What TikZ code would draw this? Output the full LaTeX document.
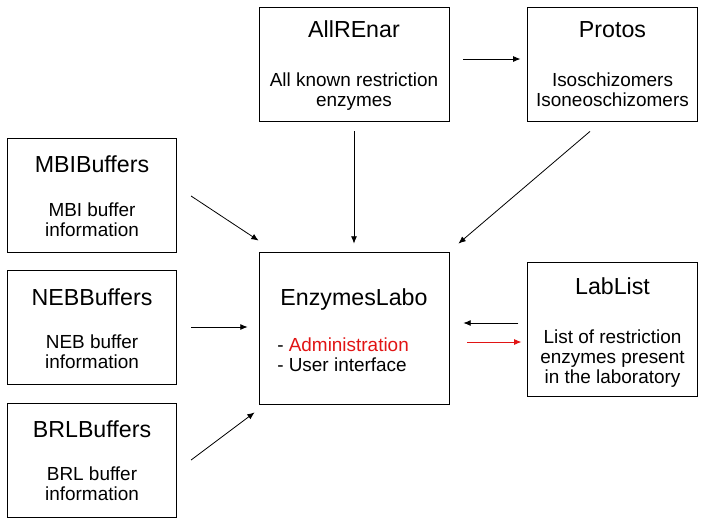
\documentclass[tikz,border=0pt]{standalone}
\usepackage{fontspec}
\setmainfont{Liberation Sans}
\usetikzlibrary{arrows.meta}
\definecolor{adminred}{RGB}{225,20,20}
\tikzset{
    box/.style={draw, line width=0.6pt, inner sep=0pt},
    wide/.style={box, minimum width=142.5pt, minimum height=85.5pt},
    narrow/.style={box, minimum width=127pt, minimum height=85.5pt},
    title/.style={anchor=base, inner sep=0pt, font=\fontsize{17.4}{20}\selectfont},
    body/.style={anchor=base, inner sep=0pt, align=center, font=\fontsize{14.2}{15}\selectfont},
    arr/.style={line width=0.6pt, -{Latex[length=5.5pt,width=4.5pt]}}
}
\begin{document}
\begin{tikzpicture}[x=0.75pt, y=-0.75pt]
        \useasboundingbox (0,0) rectangle (706,522);
        % boxes
        \node[wide] (allrenar) at (354,64) {};
        \node[narrow] (protos) at (612.5,64) {};
        \node[narrow] (mbi) at (92,195) {};
        \node[narrow] (neb) at (92,327) {};
        \node[narrow] (brl) at (92,460) {};
        \node[box, minimum width=142.5pt, minimum height=114pt] (labo) at (354,328) {};
        \node[box, minimum width=127pt, minimum height=100pt] (lablist) at (612.5,329.5) {};
        % texts (body nodes sit on the baseline of their last line)
        \node[title] (allrenar-t) at (354,37) {AllREnar};
        \node[body] (allrenar-b) at (354,106) {All known restriction\\enzymes};
        \node[title] (protos-t) at (612.5,37) {Protos};
        \node[body] (protos-b) at (612.5,106) {Isoschizomers\\Isoneoschizomers};
        \node[title] (mbi-t) at (92,172) {MBIBuffers};
        \node[body] (mbi-b) at (92,236) {MBI buffer\\information};
        \node[title] (neb-t) at (92,305) {NEBBuffers};
        \node[body] (neb-b) at (92,368) {NEB buffer\\information};
        \node[title] (brl-t) at (92,437) {BRLBuffers};
        \node[body] (brl-b) at (92,500) {BRL buffer\\information};
        \node[title] (labo-t) at (354,305) {EnzymesLabo};
        \node[body, align=left, anchor=base west] (labo-b) at (277,371)
            {- \textcolor{adminred}{Administration}\\- User interface};
        \node[title] (lablist-t) at (612.5,294) {LabList};
        \node[body] (lablist-b) at (612.5,383)
            {List of restriction\\enzymes present\\in the laboratory};
        % connectors
        \draw[arr] ([shift={(14,-5)}]allrenar.east) -- ([shift={(-7,-5)}]protos.west);
        \draw[arr] ([shift={(0,10)}]allrenar.south) -- ([shift={(0,-8)}]labo.north);
        \draw[arr] ([shift={(-22.5,10)}]protos.south) -- ([shift={(9,-8)}]labo.north east);
        \draw[arr] ([shift={(14,1)}]mbi.east) -- ([shift={(0,-11)}]labo.north west);
        \draw[arr] ([shift={(14,0)}]neb.east) -- ([shift={(-11,-1)}]labo.west);
        \draw[arr] ([shift={(14,0)}]brl.east) -- ([shift={(-4,8)}]labo.south west);
        \draw[arr] ([shift={(-9,-6.5)}]lablist.west) -- ([shift={(14,-5)}]labo.east);
        \draw[arr, adminred] ([shift={(18,14)}]labo.east) -- ([shift={(-6,12.5)}]lablist.west);
    \end{tikzpicture}
\end{document}
